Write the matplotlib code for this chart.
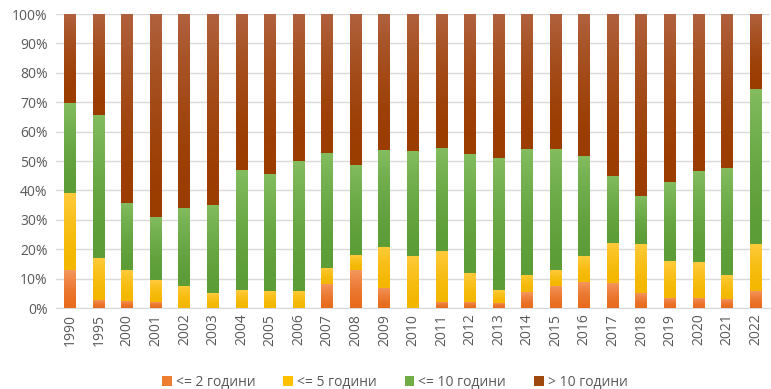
import matplotlib
matplotlib.use('Agg')
import matplotlib.pyplot as plt
import matplotlib.colors as mcolors
from matplotlib.patches import Patch
from matplotlib.ticker import PercentFormatter
import numpy as np

plt.rcParams['font.family'] = ['Open Sans', 'DejaVu Sans']

years = ['1990', '1995', '2000', '2001', '2002', '2003', '2004', '2005', '2006',
         '2007', '2008', '2009', '2010', '2011', '2012', '2013', '2014', '2015',
         '2016', '2017', '2018', '2019', '2020', '2021', '2022']

# shares in %
upto_2 = [12.9, 2.9, 2.5, 2.2, 0.0, 0.0, 0.0, 0.0, 0.0, 8.2, 12.9, 6.9, 0.0,
          2.2, 2.2, 1.8, 5.4, 7.5, 9.0, 8.6, 5.2, 3.5, 3.5, 3.2, 5.9]
upto_5 = [26.4, 14.2, 10.4, 7.3, 7.5, 5.0, 6.1, 5.9, 5.9, 5.6, 5.1, 14.0, 17.7,
          17.3, 9.8, 4.3, 5.8, 5.4, 8.7, 13.7, 16.6, 12.5, 12.1, 8.0, 15.9]
upto_10 = [30.3, 48.7, 23.0, 21.6, 26.6, 30.0, 40.8, 39.6, 44.0, 39.1, 30.8,
           32.7, 35.6, 35.0, 40.4, 45.0, 42.8, 41.1, 34.1, 22.6, 16.3, 27.0,
           31.0, 36.4, 52.8]
over_10 = [30.4, 34.2, 64.1, 68.9, 65.9, 65.0, 53.1, 54.5, 50.1, 47.1, 51.2,
           46.4, 46.7, 45.5, 47.6, 48.9, 46.0, 46.0, 48.2, 55.1, 61.9, 57.0,
           53.4, 52.4, 25.4]

labels = ['<= 2 години', '<= 5 години', '<= 10 години', '> 10 години']
series = [upto_2, upto_5, upto_10, over_10]
base_colors = ['#ED7D31', '#FFC000', '#70AD47', '#9E480E']
grad_colors = [('#E86C1E', '#F4975F'), ('#F3B700', '#FFCB3C'),
               ('#5D9D37', '#82BC5F'), ('#9B3C00', '#B0613D')]

fig = plt.figure(figsize=(7.71, 3.89), dpi=100)
ax = fig.add_axes([0.0726, 0.208, 0.926, 0.756])

x = np.arange(len(years))
bottom = np.zeros(len(years))
grad = np.linspace(0, 1, 64).reshape(-1, 1) ** 1.6
for vals, (c0, c1) in zip(series, grad_colors):
    vals = np.array(vals)
    bars = ax.bar(x, vals, 0.42, bottom=bottom, color=c0, linewidth=0, zorder=2)
    cmap = mcolors.LinearSegmentedColormap.from_list('g', [c0, c1])
    for b in bars:
        x0, y0 = b.get_x(), b.get_y()
        w, h = b.get_width(), b.get_height()
        if h <= 0:
            continue
        im = ax.imshow(grad, cmap=cmap, origin='lower', aspect='auto',
                       extent=(x0, x0 + w, y0, y0 + h), zorder=3)
        im.set_clip_path(b)
    bottom += vals

ax.set_xlim(-0.5, len(years) - 0.5)
ax.set_ylim(0, 100)
ax.set_yticks(np.arange(0, 101, 10))
ax.yaxis.set_major_formatter(PercentFormatter(decimals=0))
ax.set_xticks(x)
ax.set_xticklabels(years, rotation=90)
ax.tick_params(axis='both', length=0, colors='#595959', labelsize=10)
ax.tick_params(axis='x', pad=4)
ax.tick_params(axis='y', pad=6)
ax.grid(True, axis='y', color='#D9D9D9', linewidth=1, zorder=0)
for side in ['top', 'right', 'left']:
    ax.spines[side].set_visible(False)
ax.spines['bottom'].set_color('#D9D9D9')

handles = [Patch(facecolor=c, label=l) for c, l in zip(base_colors, labels)]
fig.legend(handles=handles, loc='lower center', bbox_to_anchor=(0.512, -0.035),
           ncol=4, frameon=False, fontsize=10, handlelength=0.7,
           handleheight=0.7, handletextpad=0.3, columnspacing=2.0,
           labelcolor='#595959')

plt.savefig('out.png', dpi=100)
plt.close()
